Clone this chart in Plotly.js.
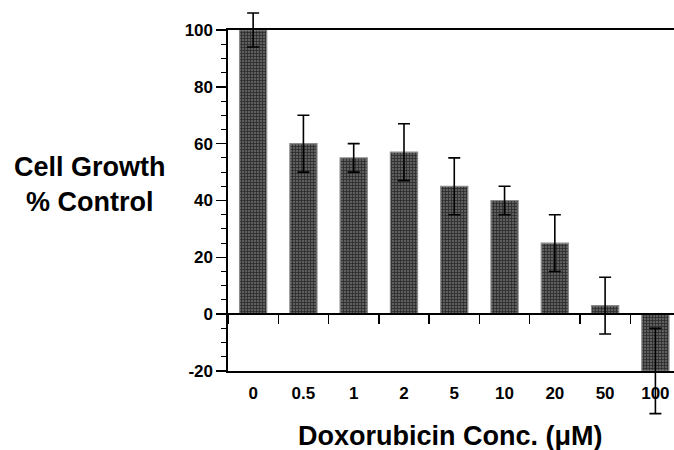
<!DOCTYPE html>
<html>
<head>
<meta charset="utf-8">
<script src="https://cdn.plot.ly/plotly-3.0.1.min.js"></script>
<style>html,body{margin:0;padding:0;background:#fff;}#chart{width:674px;height:450px;}</style>
</head>
<body>
<div id="chart"></div>
<script>
// Data
const concentrations = ['0', '0.5', '1', '2', '5', '10', '20', '50', '100'];
const growthPct = [100, 60, 55, 57, 45, 40, 25, 3, -20];
const growthErr = [6, 10, 5, 10, 10, 5, 10, 10, 15];
const yTickVals = [-20, 0, 20, 40, 60, 80, 100];
const yTickText = ['-20', '0', '20', '40', '60', '80', '100'];

const FONT = 'Liberation Sans, Arial, Helvetica, sans-serif';

// Visible frame spans -20..100; the bar subplot is a bit taller so that
// error bars reaching beyond the frame are not clipped.
const Y_LO = -36.187, Y_HI = 108.094;
const span = Y_HI - Y_LO;
const frameDomain = [(-20 - Y_LO) / span, (100 - Y_LO) / span];
const zeroPos = (0 - Y_LO) / span;

const bars = {
  type: 'bar',
  x: concentrations,
  y: growthPct,
  xaxis: 'x',
  yaxis: 'y',
  width: 0.54,
  marker: {
    color: '#555555',
    line: {color: '#8a8a8a', width: 1.2},
    pattern: {shape: '+', fgcolor: '#2b2b2b', bgcolor: '#5e5e5e', size: 3, solidity: 0.45}
  },
  error_y: {type: 'data', array: growthErr, visible: true, color: '#000', thickness: 1.6, width: 6},
  hoverinfo: 'x+y'
};

// invisible helper trace carrying the frame axes (labels, outline)
const frameTrace = {
  type: 'scatter', mode: 'markers', x: concentrations, y: growthPct,
  xaxis: 'x2', yaxis: 'y2', marker: {opacity: 0}, hoverinfo: 'skip', showlegend: false
};

const tickFont = {family: FONT, size: 17, weight: 'bold', color: '#000'};

const layout = {
  width: 674, height: 450,
  margin: {l: 228, r: 0, t: 7, b: 33},
  paper_bgcolor: '#fff', plot_bgcolor: 'rgba(0,0,0,0)',
  showlegend: false,
  font: {family: FONT, color: '#000'},
  xaxis: {
    type: 'category',
    range: [-0.5, 8.37],
    anchor: 'free', position: zeroPos,
    showline: false, showgrid: false, zeroline: false,
    ticks: 'outside', tickson: 'boundaries', ticklen: 9, tickwidth: 1.5, tickcolor: '#000',
    showticklabels: false
  },
  yaxis: {
    range: [Y_LO, Y_HI],
    visible: false, showgrid: false, zeroline: false
  },
  xaxis2: {
    type: 'category',
    matches: 'x', anchor: 'y2', side: 'bottom',
    showline: true, linecolor: '#000', linewidth: 1.6, mirror: true,
    showgrid: false, zeroline: false, ticks: '',
    ticklabelstandoff: 6,
    tickfont: tickFont
  },
  yaxis2: {
    domain: frameDomain,
    range: [-20, 100],
    anchor: 'x2',
    showline: true, linecolor: '#000', linewidth: 1.6,
    showgrid: false,
    zeroline: true, zerolinecolor: '#000', zerolinewidth: 1.6,
    tickvals: yTickVals, ticktext: yTickText,
    ticks: 'outside', ticklen: 10, tickwidth: 1.5, tickcolor: '#000',
    minor: {dtick: 5, ticks: 'outside', ticklen: 5, tickwidth: 1, tickcolor: '#000', showgrid: false},
    tickfont: tickFont
  },
  annotations: [
    {
      text: 'Cell Growth<br>% Control', xref: 'paper', yref: 'paper',
      x: -0.3094, y: 0.566, xanchor: 'center', yanchor: 'middle', showarrow: false,
      align: 'center',
      font: {family: FONT, size: 27, weight: 'bold', color: '#000'}
    },
    {
      text: 'Doxorubicin Conc. (μM)', xref: 'paper', yref: 'paper',
      x: 0.498, y: -0.088, xanchor: 'center', yanchor: 'bottom', showarrow: false,
      font: {family: FONT, size: 27, weight: 'bold', color: '#000'}
    }
  ]
};

Plotly.newPlot('chart', [bars, frameTrace], layout, {staticPlot: true, displayModeBar: false});
</script>
</body>
</html>
